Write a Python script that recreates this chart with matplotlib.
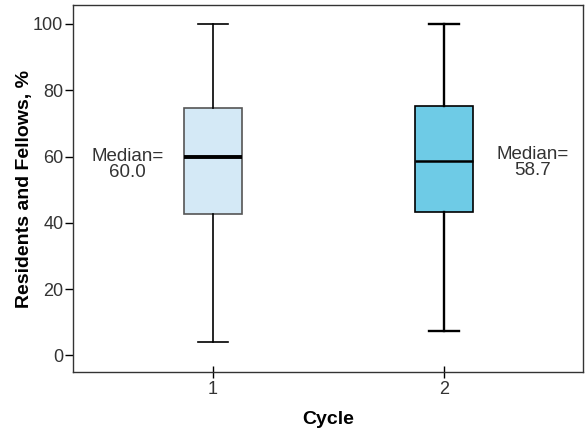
#!/usr/bin/env python3

import matplotlib.pyplot as plt

plt.rc('font', family=['Liberation Sans', 'DejaVu Sans'])

# data
cycles = ['1', '2']
whisker_low = [3.9, 7.3]
q1 = [42.6, 43.2]
medians = [60.0, 58.7]
q3 = [74.6, 75.2]
whisker_high = [100.0, 100.0]
median_labels = ['Median=\n60.0', 'Median=\n58.7']

box_colors = ['#d4e9f6', '#6ecbe6']
edge_colors = ['#555555', '#000000']
whisker_widths = [1.2, 1.7]
median_widths = [2.8, 1.8]

fig = plt.figure(figsize=(5.86, 4.29), dpi=100)
ax = fig.add_axes([73 / 586, 1 - 372 / 429, (583 - 73) / 586, (372 - 5) / 429])

positions = [1, 2]
for i, pos in enumerate(positions):
    stats = [dict(med=medians[i], q1=q1[i], q3=q3[i],
                  whislo=whisker_low[i], whishi=whisker_high[i], fliers=[])]
    ax.bxp(stats, positions=[pos], widths=0.25, patch_artist=True, showfliers=False,
           boxprops=dict(facecolor=box_colors[i], edgecolor=edge_colors[i], linewidth=1.2),
           medianprops=dict(color='black', linewidth=median_widths[i]),
           whiskerprops=dict(color='black', linewidth=whisker_widths[i]),
           capprops=dict(color='black', linewidth=whisker_widths[i]),
           capwidths=0.13)

# median annotations
label_x = [0.63, 2.38]
label_y = [62.6, 63.2]
for i in range(2):
    ax.text(label_x[i], label_y[i], median_labels[i], ha='center', va='top', fontsize=13.5,
            color='#333333', linespacing=0.95)

ax.set_xlim(0.394, 2.6)
ax.set_ylim(-5, 105.7)
ax.set_xticks(positions)
ax.set_xticklabels(cycles)
ax.set_yticks([0, 20, 40, 60, 80, 100])

ax.tick_params(axis='y', direction='out', length=6, width=1, labelsize=13, labelcolor='#333333', pad=1)
ax.tick_params(axis='x', direction='inout', length=9, width=1, labelsize=13, labelcolor='#333333', pad=2)

for side in ['left', 'bottom', 'top', 'right']:
    ax.spines[side].set_linewidth(1.0)
    ax.spines[side].set_color('#333333')

ax.set_ylabel('Residents and Fellows, %', fontsize=14, fontweight='bold', labelpad=0)
ax.set_xlabel('Cycle', fontsize=14, fontweight='bold', labelpad=9)

plt.savefig('out.png', dpi=100)
